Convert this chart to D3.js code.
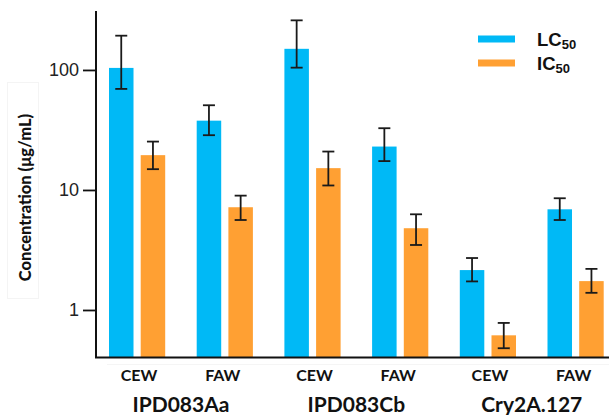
<!DOCTYPE html>
<html>
<head>
<meta charset="utf-8">
<script src="https://cdn.jsdelivr.net/npm/d3@7"></script>
<style>
  body { margin: 0; background: #fff; }
  svg { display: block; }
</style>
</head>
<body>
<svg id="chart" width="609" height="415"></svg>
<script>
// ---- data ----
const proteins = ["IPD083Aa", "IPD083Cb", "Cry2A.127"];
const insects = ["CEW", "FAW"];
const seriesNames = ["LC50", "IC50"];
// order: IPD083Aa CEW, IPD083Aa FAW, IPD083Cb CEW, IPD083Cb FAW, Cry2A.127 CEW, Cry2A.127 FAW
const lc50 = [104, 37.8, 150, 23.0, 2.15, 6.9];
const lc50Low = [69.5, 28.6, 104.5, 17.4, 1.73, 5.62];
const lc50High = [193, 50.8, 259, 32.7, 2.71, 8.53];
const ic50 = [19.5, 7.18, 15.2, 4.8, 0.615, 1.74];
const ic50Low = [14.9, 5.62, 10.9, 3.48, 0.48, 1.39];
const ic50High = [25.3, 8.97, 20.9, 6.27, 0.78, 2.2];
const yTicks = [1, 10, 100];

const colors = { LC50: "#00B9F6", IC50: "#FFA033" };

const svg = d3.select("#chart");

const keys = [];
proteins.forEach(p => insects.forEach(i => keys.push(p + "|" + i)));

const rows = keys.map((k, idx) => ({
  key: k, protein: k.split("|")[0], insect: k.split("|")[1],
  vals: [
    { s: "LC50", v: lc50[idx], lo: lc50Low[idx], hi: lc50High[idx] },
    { s: "IC50", v: ic50[idx], lo: ic50Low[idx], hi: ic50High[idx] }
  ]
}));

const x0 = d3.scaleBand().domain(keys).range([93.25, 619.45]).padding(0);
const x1 = d3.scaleBand().domain(seriesNames).range([15.75, 71.95]).paddingInner(0.227).paddingOuter(0);
const y = d3.scaleLog().domain([0.398, 304]).range([358, 12]);

// faint frame around y label
svg.append("rect").attr("x", 7.5).attr("y", 82.5).attr("width", 31).attr("height", 216)
  .attr("fill", "none").attr("stroke", "#f4f4f4").attr("stroke-width", 1);
// faint line under axis
svg.append("line").attr("x1", 107).attr("x2", 609).attr("y1", 364.5).attr("y2", 364.5)
  .attr("stroke", "#f5f5f5").attr("stroke-width", 1);

// bars
const g = svg.append("g");
const grp = g.selectAll("g.grp").data(rows).join("g")
  .attr("class", "grp")
  .attr("transform", d => `translate(${x0(d.key)},0)`);

grp.selectAll("rect").data(d => d.vals).join("rect")
  .attr("x", d => x1(d.s))
  .attr("width", x1.bandwidth())
  .attr("y", d => y(d.v))
  .attr("height", d => 358 - y(d.v))
  .attr("fill", d => colors[d.s]);

// error bars
const eb = grp.selectAll("g.eb").data(d => d.vals).join("g").attr("class", "eb")
  .attr("stroke", "#1a1a1a").attr("stroke-width", 1.8);
eb.append("line")
  .attr("x1", d => x1(d.s) + x1.bandwidth() / 2)
  .attr("x2", d => x1(d.s) + x1.bandwidth() / 2)
  .attr("y1", d => y(d.hi)).attr("y2", d => y(d.lo));
eb.append("line")
  .attr("x1", d => x1(d.s) + x1.bandwidth() / 2 - 6)
  .attr("x2", d => x1(d.s) + x1.bandwidth() / 2 + 6)
  .attr("y1", d => y(d.hi)).attr("y2", d => y(d.hi));
eb.append("line")
  .attr("x1", d => x1(d.s) + x1.bandwidth() / 2 - 6)
  .attr("x2", d => x1(d.s) + x1.bandwidth() / 2 + 6)
  .attr("y1", d => y(d.lo)).attr("y2", d => y(d.lo));

// y axis
const yAxis = d3.axisLeft(y).tickValues(yTicks).tickFormat(d3.format("d")).tickSize(13).tickPadding(4).tickSizeOuter(0);
const ya = svg.append("g").attr("transform", "translate(96,0)").call(yAxis);
ya.select(".domain").remove();
ya.append("line").attr("x1", 0).attr("x2", 0).attr("y1", 11).attr("y2", 358)
  .attr("stroke", "#111").attr("stroke-width", 2);
ya.selectAll(".tick line").attr("stroke", "#111").attr("stroke-width", 1.8);
ya.selectAll(".tick text").attr("fill", "#222")
  .style("font-family", "'Liberation Sans', Arial, sans-serif").style("font-size", "18px");

// x axis line
svg.append("line").attr("x1", 95).attr("x2", 609).attr("y1", 357.5).attr("y2", 357.5)
  .attr("stroke", "#111").attr("stroke-width", 2);

// insect labels
svg.append("g").selectAll("text").data(rows).join("text")
  .attr("x", d => x0(d.key) + x0.bandwidth() / 2 + (d.insect === "CEW" ? 2 : -2))
  .attr("y", 381)
  .attr("text-anchor", "middle")
  .style("font-family", "Lato, 'Open Sans', sans-serif").style("font-weight", "bold").style("font-size", "16px")
  .attr("fill", "#111")
  .text(d => d.insect);

// protein labels
svg.append("g").selectAll("text").data(proteins).join("text")
  .attr("x", p => (x0(p + "|CEW") + x0(p + "|FAW") + x0.bandwidth()) / 2)
  .attr("y", 411.5)
  .attr("text-anchor", "middle")
  .style("font-family", "Lato, 'Open Sans', sans-serif").style("font-weight", "bold").style("font-size", "21px")
  .attr("fill", "#111")
  .text(p => p);

// y label
svg.append("text")
  .attr("transform", "translate(30.5,197.5) rotate(-90)")
  .attr("text-anchor", "middle")
  .style("font-family", "Lato, 'Open Sans', sans-serif").style("font-weight", "900").style("font-size", "16.5px")
  .attr("fill", "#111")
  .text("Concentration (μg/mL)");

// legend
const leg = svg.append("g").selectAll("g").data(seriesNames).join("g")
  .attr("transform", (d, i) => `translate(478,${35.5 + i * 24})`);
leg.append("rect").attr("width", 37).attr("height", 7).attr("fill", d => colors[d]);
const lt = leg.append("text").attr("x", 59).attr("y", 10.5)
  .style("font-family", "'Liberation Sans', Arial, sans-serif").style("font-weight", "bold").style("font-size", "18.5px")
  .attr("fill", "#111");
lt.append("tspan").text(d => d.slice(0, 2));
lt.append("tspan").attr("dy", 2.5).style("font-size", "13px").text(d => d.slice(2));
</script>
</body>
</html>
